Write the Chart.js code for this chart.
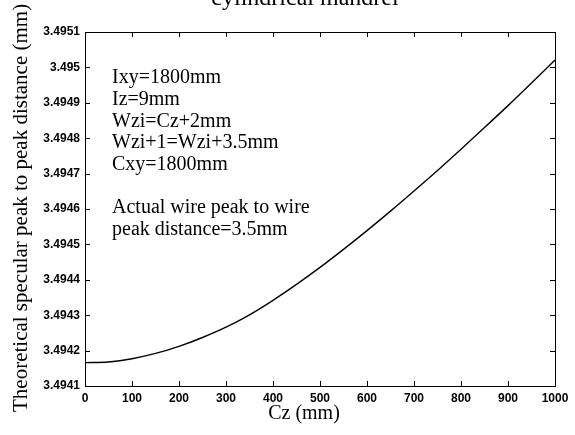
<!DOCTYPE html>
<html>
<head>
<meta charset="utf-8">
<script src="https://cdn.jsdelivr.net/npm/chart.js@4/dist/chart.umd.min.js"></script>
<style>
  html, body { margin: 0; padding: 0; background: #fff; }
  #wrap { position: relative; width: 575px; height: 435px; overflow: hidden; }
  #ttl { position: absolute; left: 0; width: 610px; text-align: center; top: -16px;
         font: 24px "Liberation Serif", "Times New Roman", serif; color: #000; }
</style>
</head>
<body>
<div id="wrap">
  <canvas id="myChart" width="575" height="435"></canvas>
  <div id="ttl">cylindrical mandrel</div>
</div>
<script>
/* data */
var czValues = [0, 50, 100, 150, 200, 250, 300, 350, 400, 450, 500,
                550, 600, 650, 700, 750, 800, 850, 900, 950, 1000];
var peakDistance = [3.494166, 3.494168, 3.494177, 3.494192, 3.494212, 3.494237, 3.494266,
                    3.494301, 3.494342, 3.494387, 3.494435, 3.494486, 3.494539, 3.494594,
                    3.494651, 3.494709, 3.494769, 3.494830, 3.494892, 3.494956, 3.495021];
var xTicks = [0, 100, 200, 300, 400, 500, 600, 700, 800, 900, 1000];
var yTicks = [3.4941, 3.4942, 3.4943, 3.4944, 3.4945, 3.4946, 3.4947, 3.4948, 3.4949, 3.495, 3.4951];
var noteLines = ['Ixy=1800mm', 'Iz=9mm', 'Wzi=Cz+2mm', 'Wzi+1=Wzi+3.5mm', 'Cxy=1800mm', '',
                 'Actual wire peak to wire', 'peak distance=3.5mm'];
var xTitle = 'Cz (mm)';
var yTitle = 'Theoretical specular peak to peak distance (mm)';

var serif = '"Liberation Serif", "Times New Roman", serif';
var sans = '"Liberation Sans", Arial, sans-serif';

var points = [];
for (var i = 0; i < czValues.length; i++) {
	points.push({x: czValues[i], y: peakDistance[i]});
}

// box, inward ticks, axis titles and the note text
var boxPlugin = {
	id: 'boxPlugin',
	afterDraw: function(chart) {
		var ctx = chart.ctx;
		var a = chart.chartArea;
		var sx = chart.scales.x, sy = chart.scales.y;
		var len = 5;
		ctx.save();
		ctx.strokeStyle = '#000';
		ctx.lineWidth = 1;
		ctx.strokeRect(a.left + 0.5, a.top + 0.5, a.right - a.left, a.bottom - a.top);
		ctx.beginPath();
		xTicks.forEach(function(v) {
			var px = Math.round(sx.getPixelForValue(v)) + 0.5;
			ctx.moveTo(px, a.bottom); ctx.lineTo(px, a.bottom - len);
			ctx.moveTo(px, a.top); ctx.lineTo(px, a.top + len);
		});
		yTicks.forEach(function(v) {
			var py = Math.round(sy.getPixelForValue(v)) + 0.5;
			ctx.moveTo(a.left, py); ctx.lineTo(a.left + len, py);
			ctx.moveTo(a.right, py); ctx.lineTo(a.right - len, py);
		});
		ctx.stroke();

		ctx.fillStyle = '#000';
		ctx.font = '20px ' + serif;
		ctx.textAlign = 'center';
		ctx.textBaseline = 'middle';
		ctx.fillText(xTitle, (a.left + a.right) / 2 - 16, 414);

		ctx.save();
		ctx.font = '21px ' + serif;
		ctx.translate(21, 412);
		ctx.rotate(-Math.PI / 2);
		ctx.textAlign = 'left';
		ctx.fillText(yTitle, 0, 0);
		ctx.restore();

		ctx.textAlign = 'left';
		for (var i = 0; i < noteLines.length; i++) {
			ctx.fillText(noteLines[i], a.left + 27, a.top + 46 + i * 21.7);
		}
		ctx.restore();
	}
};

var ctx = document.getElementById('myChart').getContext('2d');
var myChart = new Chart(ctx, {
	type: 'line',
	data: {
		datasets: [{
			data: points,
			borderColor: '#000',
			borderWidth: 1.4,
			pointRadius: 0,
			fill: false,
			cubicInterpolationMode: 'monotone'
		}]
	},
	options: {
		responsive: false,
		animation: false,
		layout: { padding: { top: 32, right: 20, bottom: 0, left: 0 } },
		plugins: { legend: { display: false }, tooltip: { enabled: false }, title: { display: false } },
		scales: {
			x: {
				type: 'linear',
				min: 0, max: 1000,
				grid: { display: false, drawTicks: false, tickLength: 0 },
				border: { display: false },
				afterFit: function(s) { s.height = 49; },
				afterBuildTicks: function(s) { s.ticks = xTicks.map(function(v) { return {value: v}; }); },
				ticks: { color: '#000', padding: 5, maxRotation: 0, autoSkip: false,
					font: { family: sans, size: 12, weight: 'bold' },
					callback: function(v) { return String(v); } }
			},
			y: {
				type: 'linear',
				min: 3.4941, max: 3.4951,
				grid: { display: false, drawTicks: false, tickLength: 0 },
				border: { display: false },
				afterFit: function(s) { s.width = 85; },
				afterBuildTicks: function(s) { s.ticks = yTicks.map(function(v) { return {value: v}; }); },
				ticks: { color: '#000', padding: 5, autoSkip: false,
					font: { family: sans, size: 12, weight: 'bold' },
					callback: function(v) { return String(parseFloat(Number(v).toFixed(4))); } }
			}
		}
	},
	plugins: [boxPlugin]
});
</script>
</body>
</html>
